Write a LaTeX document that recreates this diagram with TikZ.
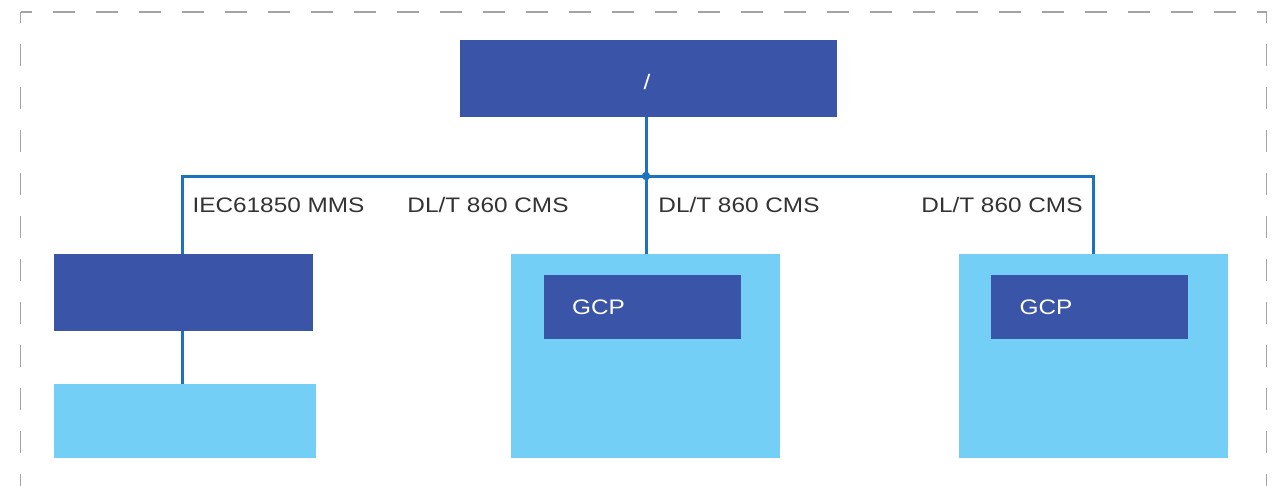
\documentclass[tikz,border=0pt]{standalone}
\usepackage{fontspec}
\setmainfont{Liberation Sans}[FakeStretch=1.16]
\definecolor{darkbox}{HTML}{3A55A8}
\definecolor{lightbox}{HTML}{73CFF5}
\definecolor{linkblue}{HTML}{1B72BE}
\definecolor{bordergray}{HTML}{A3A3A3}
\definecolor{labeltext}{HTML}{333333}
\begin{document}
\begin{tikzpicture}[x=1pt,y=-1pt,
  darknode/.style={fill=darkbox,draw=none,inner sep=0pt,minimum width=#1},
  lightnode/.style={fill=lightbox,draw=none,inner sep=0pt},
  conn/.style={draw=linkblue,line width=3pt},
  lbl/.style={text=labeltext,font=\fontsize{21}{24}\selectfont,inner sep=0pt},
  wlbl/.style={text=white,font=\fontsize{21}{24}\selectfont,inner sep=0pt},
  frame/.style={draw=bordergray,line width=1.6pt,dash pattern=on 22pt off 21pt,dash phase=11pt}]
\useasboundingbox (0,0) rectangle (1283,485);
% dashed frame
\begin{scope}
\clip (0,0) rectangle (1283,485);
\draw[frame] (20.5,12) -- (1266.5,12);
\draw[frame] (20.5,12) -- (20.5,520);
\draw[frame] (1266.5,12) -- (1266.5,520);
\end{scope}
% boxes
\node[fill=darkbox,inner sep=0pt,minimum width=377pt,minimum height=77pt] (top) at (648.5,78.5) {};
\node[wlbl] (toplabel) at (647,82) {/};
\node[fill=darkbox,inner sep=0pt,minimum width=259pt,minimum height=77pt] (leftA) at (183.5,292.5) {};
\node[lightnode,minimum width=262pt,minimum height=74pt] (leftB) at (185,421) {};
\node[lightnode,minimum width=269pt,minimum height=204pt] (mid) at (645.5,356) {};
\node[fill=darkbox,inner sep=0pt,minimum width=197pt,minimum height=64pt] (midin) at (642.5,307) {};
\node[wlbl] (midgcp) at (598.5,307) {GCP};
\node[lightnode,minimum width=269pt,minimum height=204pt] (right) at (1093.5,356) {};
\node[fill=darkbox,inner sep=0pt,minimum width=197pt,minimum height=64pt] (rightin) at (1089.5,307) {};
\node[wlbl] (rightgcp) at (1046,307) {GCP};
% connectors
\coordinate (hub) at (646,176);
\draw[conn] (top.south -| hub) -- (hub);
\draw[conn] (182,254) |- (hub) -| (right.north);
\draw[conn] (hub) -- (hub |- mid.north);
\draw[conn] (182,331) -- (182,384);
\fill[linkblue] (hub) circle (4.2pt);
% labels
\node[lbl] (l1) at (278.5,205) {IEC61850 MMS};
\node[lbl] (l2) at (488,205) {DL/T 860 CMS};
\node[lbl] (l3) at (739,205) {DL/T 860 CMS};
\node[lbl] (l4) at (1002,205) {DL/T 860 CMS};
\end{tikzpicture}
\end{document}
